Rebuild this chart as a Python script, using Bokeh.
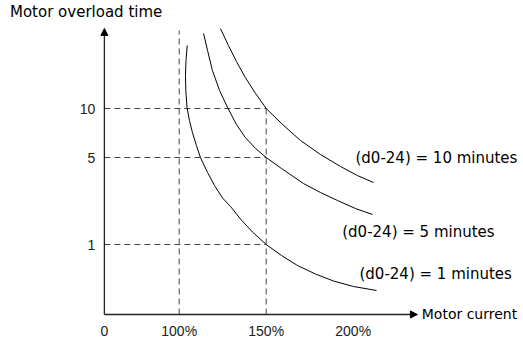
from bokeh.plotting import figure
from bokeh.models import Range1d, FixedTicker, Arrow, NormalHead, Label, ColumnDataSource
from bokeh.core.properties import value
from bokeh.embed import file_html
from bokeh.resources import INLINE

# ---- data ----
# x: motor current in %, y: schematic height of the overload-time axis
current_ticks = [57, 100, 150, 200]
current_labels = ["0", "100%", "150%", "200%"]
time_tick_height = [70, 157, 206]
time_labels = ["1", "5", "10"]

curve_10_x = [123.7, 128.3, 132.9, 138.0, 143.9, 150.0, 158.8, 169.7, 181.2, 192.7, 202.4, 211.7]
curve_10_y = [286, 269, 253, 237, 221, 206, 191, 174, 160, 148, 139, 132]

curve_5_x = [114.0, 116.3, 119.1, 123.2, 127.8, 132.9, 138.0, 143.9, 150.0, 158.8, 171.4, 181.2, 191.0, 201.3, 211.1]
curve_5_y = [281, 264, 244, 224, 207, 190, 177, 166, 157, 146, 131, 122, 114, 106, 100]

curve_1_x = [104.6, 103.9, 103.6, 103.8, 104.5, 105.9, 107.6, 109.9, 112.2, 116.3, 120.3, 124.9,
             129.5, 135.2, 142.1, 150.0, 158.8, 168.0, 178.3, 188.7, 200.2, 213.4]
curve_1_y = [269, 254, 239, 224, 207, 194, 182, 169, 157, 142, 129, 116.5,
             108, 95.5, 82.5, 70, 59, 49, 40.5, 33.5, 28, 24]

curve_labels = ["(d0-24) = 10 minutes", "(d0-24) = 5 minutes", "(d0-24) = 1 minutes"]

X0 = current_ticks[0]
Y_TOP = 286

p = figure(width=523, height=337, output_backend="svg", toolbar_location=None,
           x_range=Range1d(-2.70, 297.87), y_range=Range1d(-23, 314),
           min_border=0)
p.outline_line_color = None
p.grid.visible = False
p.background_fill_color = "white"

# axes: labels only, lines drawn by arrows
xa = p.xaxis[0]
xa.fixed_location = 0
xa.ticker = FixedTicker(ticks=current_ticks)
xa.major_label_overrides = {t: l for t, l in zip(current_ticks, current_labels)}
xa.axis_line_color = None
xa.major_tick_line_color = None
xa.minor_tick_line_color = None
xa.major_label_standoff = 2
xa.major_label_text_font = "Liberation Sans"
xa.major_label_text_font_size = "14px"
xa.major_label_text_color = "#222222"

ya = p.yaxis[0]
ya.fixed_location = X0
ya.ticker = FixedTicker(ticks=time_tick_height)
ya.major_label_overrides = {t: l for t, l in zip(time_tick_height, time_labels)}
ya.axis_line_color = None
ya.major_tick_line_color = None
ya.minor_tick_line_color = None
ya.major_label_standoff = 3
ya.major_label_text_font = "Liberation Sans"
ya.major_label_text_font_size = "14px"
ya.major_label_text_color = "#222222"

# dashed guide lines
dash = dict(line_color="#444444", line_width=1, line_dash="6 4")
p.segment(x0=[X0] * 3, y0=time_tick_height, x1=[current_ticks[2]] * 3, y1=time_tick_height, **dash)
p.segment(x0=[current_ticks[1], current_ticks[2]], y0=[0, 0],
          x1=[current_ticks[1], current_ticks[2]], y1=[284, time_tick_height[2]], **dash)

# curves
for cx, cy in [(curve_10_x, curve_10_y), (curve_5_x, curve_5_y), (curve_1_x, curve_1_y)]:
    p.line(cx, cy, line_color="black", line_width=1)

# curve labels
src = ColumnDataSource(dict(x=[201.3, 193.7, 203.6], y=[157, 82.5, 40.5], t=curve_labels))
p.text(x="x", y="y", text="t", source=src, text_font=value("DejaVu Sans"),
       text_font_size="15px", text_baseline="middle", text_align="left", text_color="black")

# axis arrows
p.add_layout(Arrow(x_start=X0, y_start=0, x_end=X0, y_end=Y_TOP,
                   end=NormalHead(size=7, fill_color="black", line_color="black"),
                   line_color="#222222", line_width=1.3))
p.add_layout(Arrow(x_start=X0, y_start=0, x_end=236.9, y_end=0,
                   end=NormalHead(size=7, fill_color="black", line_color="black"),
                   line_color="#222222", line_width=1.3))

p.add_layout(Label(x=239.4, y=1, text="Motor current", text_baseline="middle",
                   text_font="DejaVu Sans", text_font_size="14px", text_color="black"))
p.add_layout(Label(x=2.76, y=303, text="Motor overload time", text_baseline="middle",
                   text_font="DejaVu Sans", text_font_size="15px", text_color="black"))

open("out.html", "w").write(file_html(p, INLINE))
